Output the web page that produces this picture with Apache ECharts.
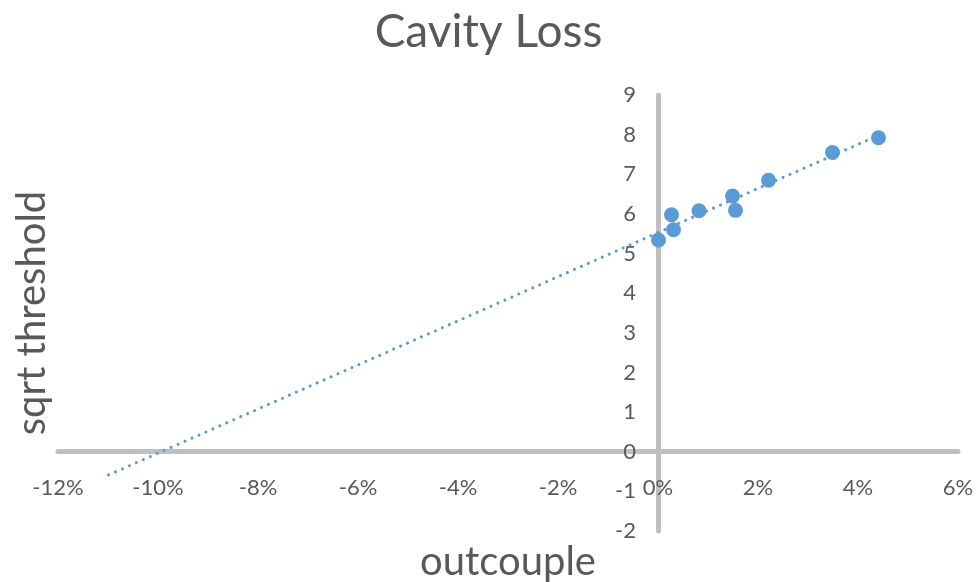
<!DOCTYPE html>
<html>
<head>
<meta charset="utf-8">
<script src="https://cdn.jsdelivr.net/npm/echarts@6/dist/echarts.min.js"></script>
<style>html,body{margin:0;padding:0;background:#fff}#c{width:977px;height:582px}</style>
</head>
<body>
<div id="c"></div>
<script>
// Data (outcouple as fraction, sqrt threshold)
const outcouple = [0.0001, 0.0027, 0.0031, 0.0082, 0.0149, 0.0155, 0.0221, 0.0349, 0.0441];
const sqrtThreshold = [5.34, 5.98, 5.60, 6.08, 6.45, 6.09, 6.85, 7.55, 7.92];
const xTicks = [-0.12, -0.10, -0.08, -0.06, -0.04, -0.02, 0, 0.02, 0.04, 0.06];
const yTicks = [-2, -1, 0, 1, 2, 3, 4, 5, 6, 7, 8, 9];
const trendBackward = 0.11; // linear trendline forecast backward

// Linear least-squares trendline (as in the spreadsheet)
const n = outcouple.length;
const mx = outcouple.reduce((a, b) => a + b, 0) / n;
const my = sqrtThreshold.reduce((a, b) => a + b, 0) / n;
let sxy = 0, sxx = 0;
for (let i = 0; i < n; i++) { sxy += (outcouple[i] - mx) * (sqrtThreshold[i] - my); sxx += (outcouple[i] - mx) ** 2; }
const slope = sxy / sxx, intercept = my - slope * mx;
const xStart = Math.min(...outcouple) - trendBackward;
const xEnd = Math.max(...outcouple);
const trend = [[xStart, intercept + slope * xStart], [xEnd, intercept + slope * xEnd]];

const W = 977, H = 582;
const G = { left: 58, right: 19, top: 95, bottom: 51 };
const xMin = xTicks[0], xMax = xTicks[xTicks.length - 1];
const yMin = yTicks[0], yMax = yTicks[yTicks.length - 1];
const gw = W - G.left - G.right, gh = H - G.top - G.bottom;
const zeroX = G.left + (0 - xMin) / (xMax - xMin) * gw;   // where the y axis crosses
const zeroY = G.top + (yMax - 0) / (yMax - yMin) * gh;    // where the x axis crosses

const FONT = 'Lato';
const GREY = '#595959';
const AXIS = { color: '#BFBFBF', width: 5 };
const hiddenAxis = { show: false };
const labelOnly = { axisLine: { show: false }, axisTick: { show: false }, splitLine: { show: false } };

const chart = echarts.init(document.getElementById('c'));
chart.setOption({
  animation: false,
  textStyle: { fontFamily: FONT },
  title: {
    text: 'Cavity Loss', left: 'center', top: 4,
    textStyle: { fontFamily: FONT, fontSize: 46, fontWeight: 'normal', color: GREY }
  },
  grid: [
    { left: G.left, right: G.right, top: G.top, bottom: G.bottom },
    { left: G.left, right: G.right, top: G.top, height: zeroY - G.top },
    { left: zeroX, right: G.right, top: G.top, bottom: G.bottom }
  ],
  xAxis: [
    { type: 'value', gridIndex: 0, min: xMin, max: xMax, interval: 0.02,
      axisLine: { onZero: true, lineStyle: AXIS },
      axisTick: { show: false }, splitLine: { show: false }, axisLabel: { show: false } },
    Object.assign({ type: 'value', gridIndex: 1, min: xMin, max: xMax, interval: 0.02,
      axisLabel: { color: GREY, fontSize: 22, fontFamily: FONT, margin: 25,
        formatter: v => Math.round(v * 100) + '%' } }, labelOnly),
    Object.assign({ type: 'value', gridIndex: 2, min: 0, max: xMax }, hiddenAxis)
  ],
  yAxis: [
    { type: 'value', gridIndex: 0, min: yMin, max: yMax, interval: 1,
      axisLine: { onZero: true, lineStyle: AXIS },
      axisTick: { show: false }, splitLine: { show: false }, axisLabel: { show: false } },
    Object.assign({ type: 'value', gridIndex: 1, min: 0, max: yMax }, hiddenAxis),
    Object.assign({ type: 'value', gridIndex: 2, min: yMin, max: yMax, interval: 1,
      axisLabel: { color: GREY, fontSize: 22, fontFamily: FONT, margin: 22 } }, labelOnly)
  ],
  graphic: [
    { type: 'text', x: 508, y: 562, style: { text: 'outcouple', fontSize: 40, fontFamily: FONT, fill: GREY, align: 'center', verticalAlign: 'middle' } },
    { type: 'text', x: 32, y: 313, rotation: Math.PI / 2, style: { text: 'sqrt threshold', fontSize: 40, fontFamily: FONT, fill: GREY, align: 'center', verticalAlign: 'middle' } }
  ],
  series: [
    {
      type: 'line', xAxisIndex: 0, yAxisIndex: 0, data: trend, symbol: 'none', z: 2,
      lineStyle: { color: '#5B9BD5', width: 3, type: [0.1, 7.5], cap: 'round' }
    },
    {
      type: 'scatter', xAxisIndex: 0, yAxisIndex: 0, data: outcouple.map((x, i) => [x, sqrtThreshold[i]]),
      symbolSize: 15, z: 3, itemStyle: { color: '#5B9BD5', opacity: 1 }
    }
  ]
});
</script>
</body>
</html>
